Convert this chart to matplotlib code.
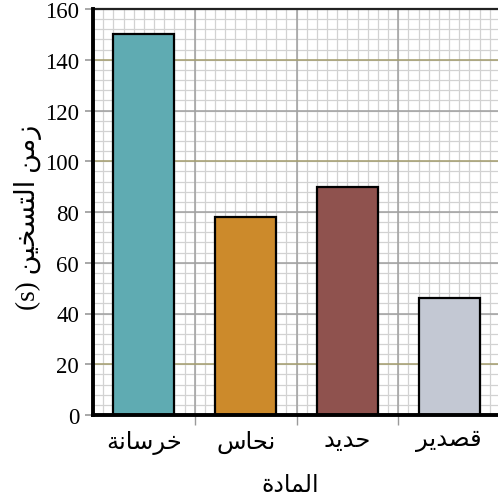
import matplotlib
matplotlib.use("Agg")
import matplotlib.pyplot as plt
from matplotlib import font_manager as fm
import numpy as np

# data
materials = ["خرسانة", "نحاس", "حديد", "قصدير"]
heat_times = [150, 78, 90, 46]
bar_colors = ["#5fabb2", "#cc8a2b", "#8f524e", "#c3c8d3"]
y_ticks = [0, 20, 40, 60, 80, 100, 120, 140, 160]
olive_lines = [20, 100, 140]
x_label = "المادة"
y_label = "زمن التسخين (s)"

# minimal Arabic shaping: (isolated, final, initial, medial)
FORMS = {
    "ا": ("\ufe8d", "\ufe8e", None, None),
    "ل": ("\ufedd", "\ufede", "\ufedf", "\ufee0"),
    "م": ("\ufee1", "\ufee2", "\ufee3", "\ufee4"),
    "د": ("\ufea9", "\ufeaa", None, None),
    "ة": ("\ufe93", "\ufe94", None, None),
    "خ": ("\ufea5", "\ufea6", "\ufea7", "\ufea8"),
    "ر": ("\ufead", "\ufeae", None, None),
    "ز": ("\ufeaf", "\ufeb0", None, None),
    "س": ("\ufeb1", "\ufeb2", "\ufeb3", "\ufeb4"),
    "ن": ("\ufee5", "\ufee6", "\ufee7", "\ufee8"),
    "ح": ("\ufea1", "\ufea2", "\ufea3", "\ufea4"),
    "ي": ("\ufef1", "\ufef2", "\ufef3", "\ufef4"),
    "ق": ("\ufed5", "\ufed6", "\ufed7", "\ufed8"),
    "ص": ("\ufeb9", "\ufeba", "\ufebb", "\ufebc"),
    "ت": ("\ufe95", "\ufe96", "\ufe97", "\ufe98"),
}


def shape_word(word):
    out = []
    for i, ch in enumerate(word):
        if ch not in FORMS:
            out.append(ch)
            continue
        prev = word[i - 1] if i > 0 else None
        nxt = word[i + 1] if i + 1 < len(word) else None
        join_prev = prev in FORMS and FORMS[prev][2] is not None
        join_next = nxt in FORMS and FORMS[ch][2] is not None
        iso, fin, ini, med = FORMS[ch]
        if join_prev and join_next:
            out.append(med)
        elif join_prev:
            out.append(fin)
        elif join_next:
            out.append(ini)
        else:
            out.append(iso)
    return "".join(out)


def rtl(text):
    # visual order for a right-to-left line, latin tokens kept as they are
    tokens = text.split(" ")
    vis = []
    for tok in reversed(tokens):
        if any(c in FORMS for c in tok):
            vis.append(shape_word(tok)[::-1])
        else:
            vis.append(tok)
    return " ".join(vis)


# serif digits, Arabic falls through to DejaVu Sans
plt.rcParams["font.family"] = ["Liberation Serif", "DejaVu Sans"]
serif_path = fm.findfont("Liberation Serif")

fig = plt.figure(figsize=(4.98, 5.02), dpi=100)
ax = fig.add_axes([93 / 498, 86 / 502, 407 / 498, 406 / 502])

x = np.arange(len(materials))
ax.set_xlim(-0.5, len(materials) - 0.5)
ax.set_ylim(0, 160)

# fine graph-paper grid
for gx in np.arange(-0.5, len(materials) - 0.5 + 1e-6, 0.1):
    ax.axvline(gx, color="#d2d2d2", lw=0.9, zorder=0)
for gy in np.arange(0, 161, 4):
    ax.axhline(gy, color="#d2d2d2", lw=0.9, zorder=0)

ax.bar(x, heat_times, width=0.6, color=bar_colors, edgecolor="black",
       linewidth=1.6, zorder=3)

# x: tick marks on category boundaries, labels on centres
bounds = x[:-1] + 0.5
ax.set_xticks(bounds)
ax.set_xticklabels([])
ax.set_xticks(x, minor=True)
ax.set_xticklabels([rtl(m) for m in materials], minor=True, fontsize=17.5)
ax.tick_params(axis="x", which="major", length=7, width=1, color="#9a9a9a")
ax.tick_params(axis="x", which="minor", length=0, pad=11)
ax.grid(axis="x", which="major", color="#a0a0a0", lw=1.1, zorder=1)

ax.set_yticks(y_ticks)
ax.set_yticklabels([str(v) for v in y_ticks])
for lbl in ax.get_yticklabels():
    lbl.set_fontproperties(fm.FontProperties(fname=serif_path, size=16.5))
ax.tick_params(axis="y", length=6, width=1.2, color="#9a9a9a", pad=4)
ax.grid(axis="y", which="major", color="#a0a0a0", lw=1.1, zorder=1)
for val, tick in zip(y_ticks, ax.yaxis.get_major_ticks()):
    if val in olive_lines:
        tick.gridline.set_color("#a39c6c")
        tick.tick1line.set_color("#a39c6c")
ax.set_axisbelow(True)

for side in ["left", "bottom"]:
    ax.spines[side].set_linewidth(2.8)
    ax.spines[side].set_color("black")
    ax.spines[side].set_zorder(5)
ax.spines["top"].set_linewidth(1.6)
ax.spines["top"].set_color("#222222")
ax.spines["right"].set_visible(False)

fig.text(28 / 498, 1 - 217 / 502, rtl(y_label), rotation=90, ha="center",
         va="center", fontsize=19.5)
fig.text(290 / 498, 1 - 487 / 502, rtl(x_label), ha="center", va="center",
         fontsize=17)

fig.savefig("out.png", dpi=100)
